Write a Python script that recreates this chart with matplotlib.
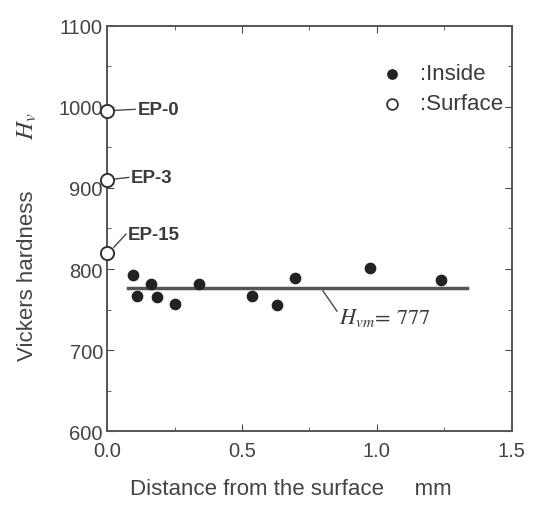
import numpy as np
import matplotlib.pyplot as plt
from matplotlib.ticker import MultipleLocator

plt.rcParams['font.family'] = ['Liberation Sans', 'DejaVu Sans']
plt.rcParams['mathtext.fontset'] = 'stix'

# inside points (distance mm, Hv)
inside_x = [0.096, 0.112, 0.163, 0.184, 0.252, 0.342, 0.536, 0.628, 0.696, 0.974, 1.237]
inside_y = [792, 767, 782, 765, 757, 782, 767, 756, 789, 801, 787]

# surface points
surf_names = ['EP-0', 'EP-3', 'EP-15']
surf_x = [0.0, 0.0, 0.0]
surf_y = [995, 910, 820]

hv_mean = 777
mean_x = [0.078, 1.334]

grey = '#4a4a4a'
txt = '#3a3a3a'

fig = plt.figure(figsize=(5.41, 5.06), dpi=100)
ax = fig.add_axes([0.198, 0.146, 0.748, 0.801])

ax.plot(mean_x, [hv_mean, hv_mean], color='#555555', lw=2.5, zorder=2)
ax.scatter(inside_x, inside_y, s=55, color='#222222', zorder=3, clip_on=False)
ax.scatter(surf_x, surf_y, s=90, facecolor='white', edgecolor='#333333',
           linewidths=1.4, zorder=4, clip_on=False)

# surface labels with leader lines
lbl_pos = [(0.112, 997), (0.088, 913), (0.078, 843)]
for name, x, y, (tx, ty) in zip(surf_names, surf_x, surf_y, lbl_pos):
    ax.plot([x + 0.025, tx - 0.008], [y + (ty - y) * 0.3, ty], color=grey, lw=1)
    ax.text(tx, ty, name, fontsize=13.5, fontweight='bold', color=txt,
            va='center', ha='left')

# mean annotation
ax.plot([0.80, 0.852], [773, 748], color=grey, lw=1)
ax.text(0.86, 741, r'$H_{vm}\!=\,\mathit{%d}$' % hv_mean, fontsize=16, color=txt,
        va='center', ha='left')

# legend drawn by hand
ax.scatter([1.056], [1041], s=45, color='#222222', clip_on=False)
ax.scatter([1.056], [1004], s=60, facecolor='white', edgecolor='#333333', linewidths=1.3)
ax.text(1.16, 1041, ':Inside', fontsize=16, color=txt, va='center')
ax.text(1.16, 1004, ':Surface', fontsize=16, color=txt, va='center')

ax.set_xlim(0, 1.5)
ax.set_ylim(600, 1100)
ax.xaxis.set_major_locator(MultipleLocator(0.5))
ax.xaxis.set_minor_locator(MultipleLocator(0.25))
ax.yaxis.set_major_locator(MultipleLocator(100))
ax.yaxis.set_minor_locator(MultipleLocator(50))
ax.xaxis.set_major_formatter(plt.FormatStrFormatter('%.1f'))
ax.tick_params(which='both', direction='in', top=True, right=True, color=grey,
               labelsize=14.5, labelcolor='#444444')
ax.tick_params(which='major', length=5)
ax.tick_params(which='minor', length=3)
ax.tick_params(axis='x', pad=7)
ax.tick_params(axis='y', pad=3)
for sp in ax.spines.values():
    sp.set_color('#555555')
    sp.set_linewidth(1.4)

ax.set_xlabel('Distance from the surface     mm', fontsize=16, color='#444444')
ax.xaxis.set_label_coords(0.455, -0.115)

# y label split in two parts like the original
fig.text(0.05, 0.455, 'Vickers hardness', rotation=90, fontsize=16,
         color='#444444', ha='center', va='center')
fig.text(0.05, 0.75, r'$H_v$', rotation=90, fontsize=18,
         color='#444444', ha='center', va='center')

fig.savefig('out.png', dpi=100)
